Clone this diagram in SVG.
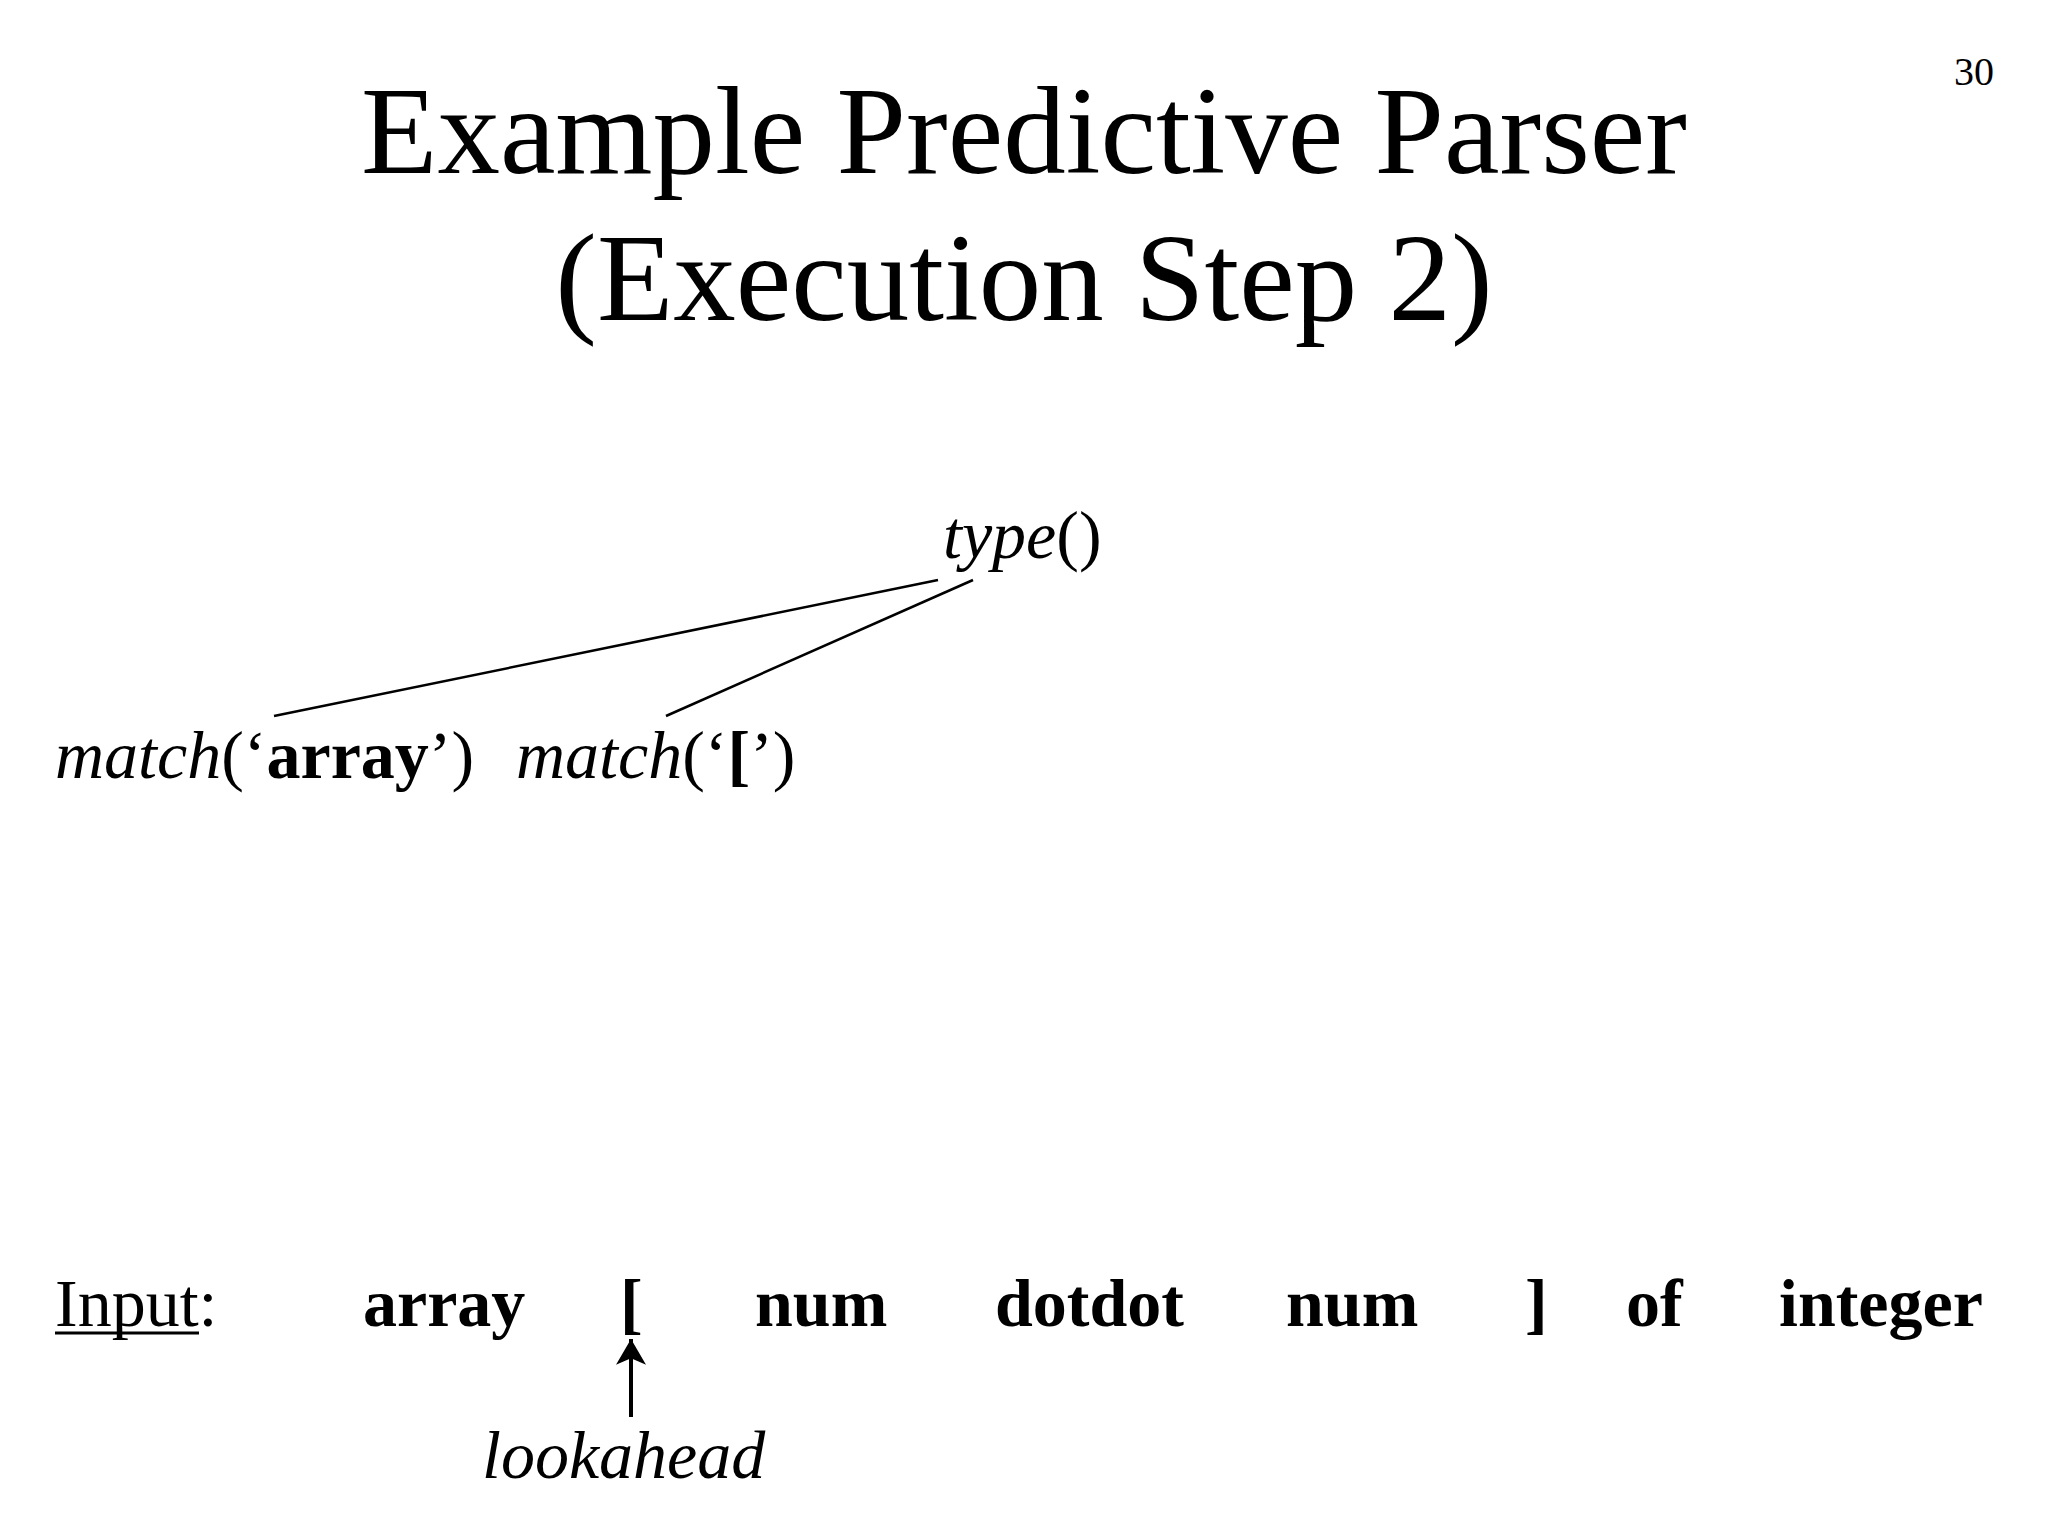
<svg xmlns="http://www.w3.org/2000/svg" width="2048" height="1536" viewBox="0 0 2048 1536">
<style>
text{font-family:"Liberation Serif","Times New Roman",serif;fill:#000}
.title{font-size:125px;text-anchor:middle}
.body{font-size:68px}
.it{font-style:italic}
.b{font-weight:bold}
.edge{stroke:#000;stroke-width:2.5;fill:none}
.arrow{stroke:#000;stroke-width:4;fill:none}
</style>
<defs>
<marker id="stealth" markerUnits="userSpaceOnUse" markerWidth="30" markerHeight="30" viewBox="0 0 28 28" refX="24" refY="14" orient="auto">
<path d="M0,0 L24,14 L0,28 L6,14 Z" fill="#000"/>
</marker>
</defs>
<rect width="2048" height="1536" fill="#fff"/>
<text x="1974" y="85" style="font-size:40px" text-anchor="middle">30</text>
<text class="title" x="1024" y="173">Example Predictive Parser</text>
<text class="title" x="1024" y="320">(Execution Step 2)</text>
<g id="connectors">
<line class="edge" x1="274" y1="716" x2="938" y2="580"/>
<line class="edge" x1="666" y1="716" x2="973" y2="580"/>
<line class="arrow" x1="631" y1="1417" x2="631" y2="1339" marker-end="url(#stealth)"/>
</g>
<g id="node-type">
<text class="body" x="943" y="558"><tspan class="it">type</tspan>()</text>
</g>
<g id="node-match-array">
<text class="body" x="55" y="778"><tspan class="it">match</tspan>(‘<tspan class="b">array</tspan>’)</text>
</g>
<g id="node-match-bracket">
<text class="body" x="516" y="778"><tspan class="it">match</tspan>(‘<tspan class="b">[</tspan>’)</text>
</g>
<g id="input">
<text class="body" x="55" y="1326">Input:</text>
<line x1="55" y1="1333" x2="199" y2="1333" stroke="#000" stroke-width="3"/>
<text class="body b" x="363" y="1326">array</text>
<text class="body b" x="620" y="1326">[</text>
<text class="body b" x="755" y="1326">num</text>
<text class="body b" x="995" y="1326">dotdot</text>
<text class="body b" x="1286" y="1326">num</text>
<text class="body b" x="1525" y="1326">]</text>
<text class="body b" x="1626" y="1326">of</text>
<text class="body b" x="1779" y="1326">integer</text>
</g>
<g id="node-lookahead">
<text class="body it" x="482" y="1478">lookahead</text>
</g>
</svg>
